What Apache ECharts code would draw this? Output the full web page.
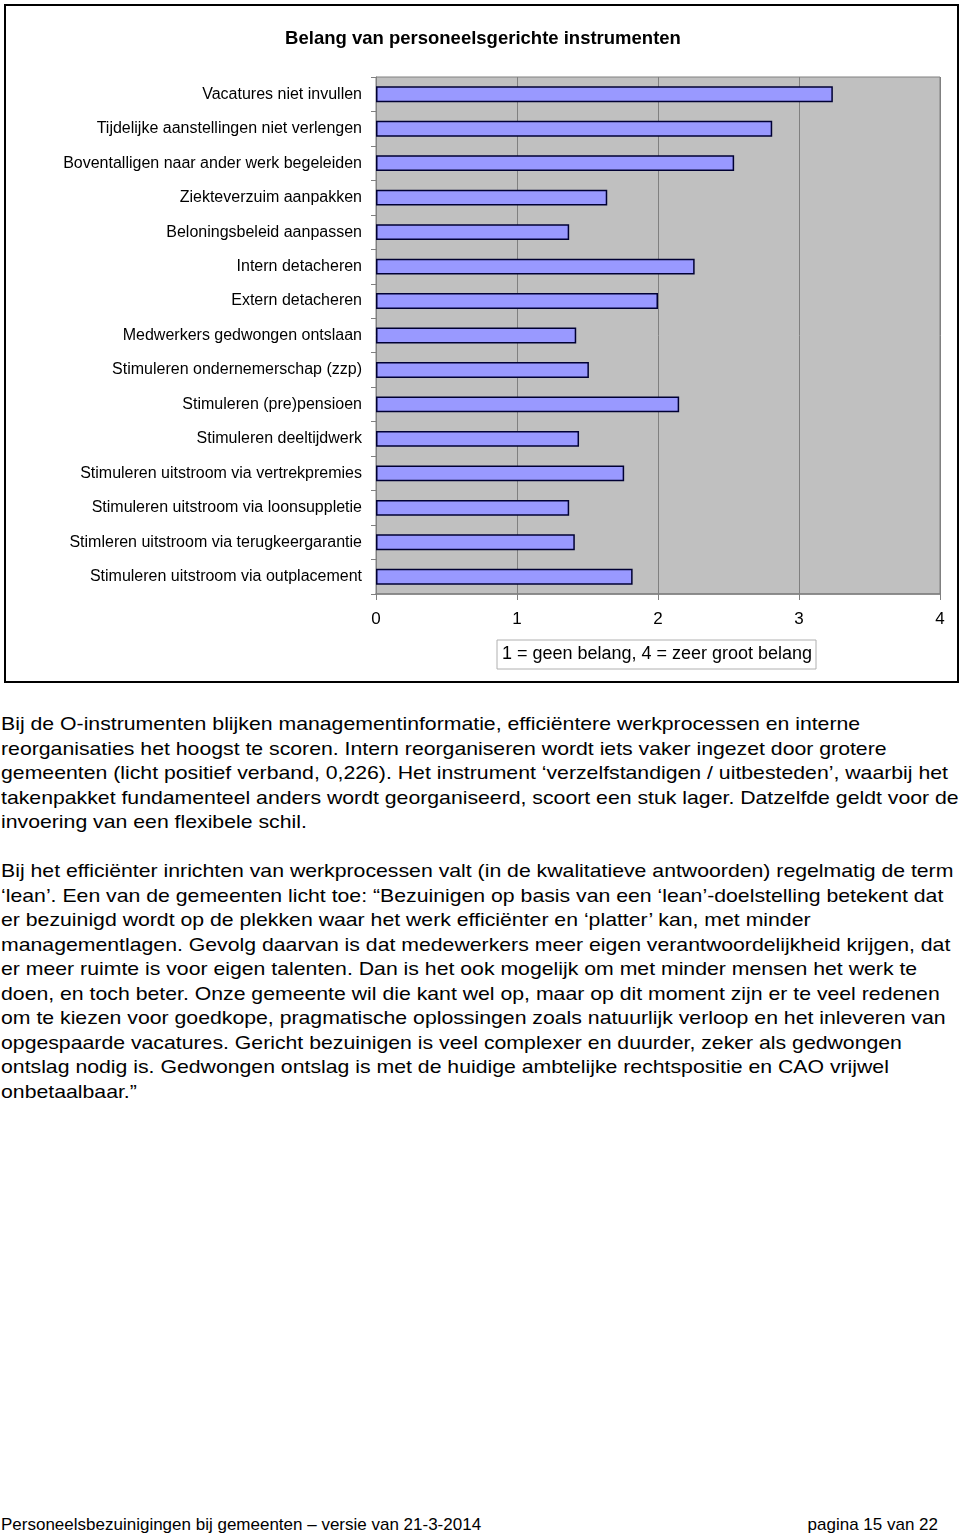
<!DOCTYPE html>
<html><head><meta charset="utf-8">
<script src="https://cdn.jsdelivr.net/npm/echarts@6/dist/echarts.min.js"></script>
<style>
html,body{margin:0;padding:0;background:#fff;width:960px;height:1538px;overflow:hidden;}
#chart{position:absolute;left:0;top:0;width:960px;height:690px;}
.txt{position:absolute;left:1px;font-family:"Liberation Sans",Arial,sans-serif;font-size:18.4px;line-height:24.5px;color:#000;white-space:nowrap;transform:scaleX(1.155);transform-origin:0 0;}
.foot{position:absolute;top:1515px;font-family:"Liberation Sans",Arial,sans-serif;font-size:17px;color:#000;white-space:nowrap;}
</style></head>
<body>
<div id="chart"></div>
<div class="txt" style="top:712px">Bij de O-instrumenten blijken managementinformatie, efficiëntere werkprocessen en interne<br>reorganisaties het hoogst te scoren. Intern reorganiseren wordt iets vaker ingezet door grotere<br>gemeenten (licht positief verband, 0,226). Het instrument ‘verzelfstandigen / uitbesteden’, waarbij het<br>takenpakket fundamenteel anders wordt georganiseerd, scoort een stuk lager. Datzelfde geldt voor de<br>invoering van een flexibele schil.</div>
<div class="txt" style="top:859px">Bij het efficiënter inrichten van werkprocessen valt (in de kwalitatieve antwoorden) regelmatig de term<br>‘lean’. Een van de gemeenten licht toe: “Bezuinigen op basis van een ‘lean’-doelstelling betekent dat<br>er bezuinigd wordt op de plekken waar het werk efficiënter en ‘platter’ kan, met minder<br>managementlagen. Gevolg daarvan is dat medewerkers meer eigen verantwoordelijkheid krijgen, dat<br>er meer ruimte is voor eigen talenten. Dan is het ook mogelijk om met minder mensen het werk te<br>doen, en toch beter. Onze gemeente wil die kant wel op, maar op dit moment zijn er te veel redenen<br>om te kiezen voor goedkope, pragmatische oplossingen zoals natuurlijk verloop en het inleveren van<br>opgespaarde vacatures. Gericht bezuinigen is veel complexer en duurder, zeker als gedwongen<br>ontslag nodig is. Gedwongen ontslag is met de huidige ambtelijke rechtspositie en CAO vrijwel<br>onbetaalbaar.”</div>
<div class="foot" style="left:1px">Personeelsbezuinigingen bij gemeenten – versie van 21-3-2014</div>
<div class="foot" style="right:22px">pagina 15 van 22</div>
<script>
const categories = [
  "Vacatures niet invullen",
  "Tijdelijke aanstellingen niet verlengen",
  "Boventalligen naar ander werk begeleiden",
  "Ziekteverzuim aanpakken",
  "Beloningsbeleid aanpassen",
  "Intern detacheren",
  "Extern detacheren",
  "Medwerkers gedwongen ontslaan",
  "Stimuleren ondernemerschap (zzp)",
  "Stimuleren (pre)pensioen",
  "Stimuleren deeltijdwerk",
  "Stimuleren uitstroom via vertrekpremies",
  "Stimuleren uitstroom via loonsuppletie",
  "Stimleren uitstroom via terugkeergarantie",
  "Stimuleren uitstroom via outplacement"
];
const values = [3.24, 2.81, 2.54, 1.64, 1.37, 2.26, 2.00, 1.42, 1.51, 2.15, 1.44, 1.76, 1.37, 1.41, 1.82];
const xTicks = [0, 1, 2, 3, 4];
const titleText = "Belang van personeelsgerichte instrumenten";
const legendText = "1 = geen belang, 4 = zeer groot belang";

const chart = echarts.init(document.getElementById('chart'), null, {renderer: 'canvas'});
const font = '"Liberation Sans", Arial, sans-serif';
chart.setOption({
  animation: false,
  backgroundColor: '#fff',
  title: {
    text: titleText, left: 478, top: 24, textAlign: 'center',
    textStyle: {fontFamily: font, fontSize: 18.5, fontWeight: 'bold', color: '#000'}
  },
  grid: {
    left: 376, right: 20, top: 77, bottom: 96,
    show: true, backgroundColor: '#C0C0C0', borderColor: '#808080', borderWidth: 1
  },
  xAxis: {
    type: 'value', min: xTicks[0], max: xTicks[xTicks.length - 1], interval: 1,
    axisLine: {show: true, lineStyle: {color: '#808080', width: 1.5}},
    axisTick: {show: true, length: 6, lineStyle: {color: '#808080'}},
    splitLine: {show: true, lineStyle: {color: '#808080', width: 1}},
    axisLabel: {margin: 17, fontFamily: font, fontSize: 17, color: '#000',
      formatter: v => xTicks.includes(v) ? String(v) : ''}
  },
  yAxis: {
    type: 'category', data: categories, inverse: true,
    axisLine: {show: true, lineStyle: {color: '#808080'}},
    axisTick: {show: true, length: 5, lineStyle: {color: '#808080'}},
    axisLabel: {margin: 14, fontFamily: font, fontSize: 16, color: '#000'}
  },
  series: [{
    type: 'bar', data: values, barWidth: '46%',
    itemStyle: {color: '#9999FF', borderColor: '#000033', borderWidth: 1.5},
    silent: true
  }],
  graphic: [
    {type: 'rect', shape: {x: 5, y: 5, width: 953, height: 677},
     style: {fill: 'none', stroke: '#000', lineWidth: 2}, z: 100},
    {type: 'rect', shape: {x: 497, y: 640, width: 319, height: 29},
     style: {fill: '#fff', stroke: '#b0b0b0', lineWidth: 1}, z: 100},
    {type: 'text', x: 657, y: 654.5,
     style: {text: legendText, fontFamily: font, fontSize: 18, fill: '#000',
       textAlign: 'center', textVerticalAlign: 'middle'}, z: 101}
  ]
});
</script>
</body></html>
